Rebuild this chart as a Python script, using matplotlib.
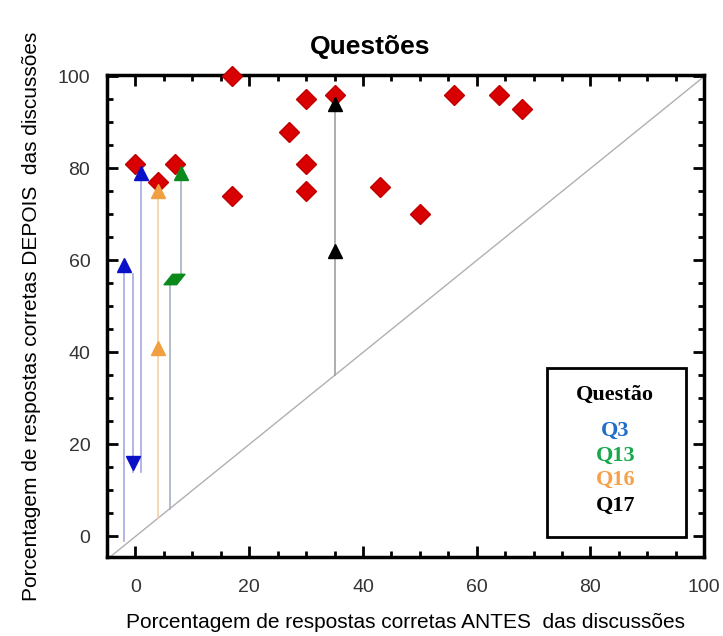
import numpy as np
import matplotlib.pyplot as plt
from matplotlib.path import Path
from matplotlib.ticker import MultipleLocator

# Red diamonds: (antes, depois) for all questions
red_x = [0, 4, 7, 17, 17, 27, 30, 30, 30, 35, 43, 50, 56, 64, 68]
red_y = [81, 77, 81, 100, 74, 88, 95, 81, 75, 96, 76, 70, 96, 96, 93]

# Q3 (blue)
q3_up_x = [-2, 1]
q3_up_y = [59, 79]
q3_down_x = [-0.5]
q3_down_y = [16]
q3_lines = [(-2, -1, 59), (-0.5, 14, 57), (1, 14, 79)]

# Q13 (green)
q13_tri_x = [8]
q13_tri_y = [79]
q13_par_x = [6.8]
q13_par_y = [56]
q13_lines = [(6, 6, 56), (8, 56, 79)]

# Q16 (orange)
q16_tri_x = [4, 4]
q16_tri_y = [41, 75]
q16_lines = [(4, 4, 77)]

# Q17 (black)
q17_tri_x = [35, 35]
q17_tri_y = [62, 94]
q17_lines = [(35, 35, 94)]

legend_items = ["Q3", "Q13", "Q16", "Q17"]
legend_colors = ["#1f6fc8", "#17a84a", "#f7a04a", "black"]

plt.rcParams["font.family"] = ["Liberation Sans", "DejaVu Sans"]

fig = plt.figure(figsize=(7.23, 6.36), dpi=100)
ax = fig.add_axes([0.148, 0.124, 0.826, 0.758])

# diagonal y = x
ax.plot([-5, 100], [-5, 100], color="#b0b0b0", lw=1, zorder=1)

def vlines(lines, color):
    for x, y0, y1 in lines:
        ax.plot([x, x], [y0, y1], color=color, lw=1.2, zorder=2)

vlines(q3_lines, "#a8a8e0")
vlines(q13_lines, "#a8b0c0")
vlines(q16_lines, "#f5cfa8")
vlines(q17_lines, "#a0a0a0")

ax.plot(red_x, red_y, "D", color="#d80000", mec="#c00000", ms=10, ls="none",
        zorder=4, clip_on=False)

ax.plot(q3_up_x, q3_up_y, "^", color="#0a10c8", ms=10, ls="none", zorder=5)
ax.plot(q3_down_x, q3_down_y, "v", color="#0a10c8", ms=10, ls="none", zorder=5)

par = Path([(-1.0, -0.5), (0.2, -0.5), (1.0, 0.5), (-0.2, 0.5), (-1.0, -0.5)],
           [Path.MOVETO, Path.LINETO, Path.LINETO, Path.LINETO, Path.CLOSEPOLY])
ax.plot(q13_par_x, q13_par_y, marker=par, color="#0a8a1a", ms=15, ls="none", zorder=5)
ax.plot(q13_tri_x, q13_tri_y, "^", color="#0a8a1a", ms=10, ls="none", zorder=5)

ax.plot(q16_tri_x, q16_tri_y, "^", color="#f0a040", ms=10, ls="none", zorder=5)
ax.plot(q17_tri_x, q17_tri_y, "^", color="black", ms=10, ls="none", zorder=5)

ax.set_xlim(-5, 100)
ax.set_ylim(-4.5, 100.3)
ax.xaxis.set_major_locator(MultipleLocator(20))
ax.xaxis.set_minor_locator(MultipleLocator(5))
ax.yaxis.set_major_locator(MultipleLocator(20))
ax.yaxis.set_minor_locator(MultipleLocator(5))
ax.tick_params(which="both", direction="in", top=True, right=True, width=2,
               labelsize=14, labelcolor="#333333")
ax.tick_params(which="major", length=8)
ax.tick_params(which="minor", length=4)
ax.tick_params(axis="x", pad=16)
ax.tick_params(axis="y", pad=12)
for s in ax.spines.values():
    s.set_linewidth(2.5)

fig.text(370 / 723, 1 - 47 / 636, "Questões", fontsize=19, fontweight="bold",
         ha="center", va="center")
ax.set_xlabel("Porcentagem de respostas corretas ANTES  das discussões", fontsize=15, labelpad=12)
ax.set_ylabel("Porcentagem de respostas corretas DEPOIS  das discussões", fontsize=15, labelpad=12)

# legend box
ax.add_patch(plt.Rectangle((0.737, 0.041), 0.233, 0.351, transform=ax.transAxes,
                           fill=True, facecolor="white", edgecolor="black", lw=2, zorder=6))
ax.text(0.851, 0.336, "Questão", transform=ax.transAxes, ha="center", va="center",
        fontsize=16, fontweight="bold", family=["Liberation Serif"], zorder=7)
ys = [0.261, 0.211, 0.161, 0.106]
for lab, col, yy in zip(legend_items, legend_colors, ys):
    ax.text(0.851, yy, lab, transform=ax.transAxes, ha="center", va="center",
            fontsize=16, fontweight="bold", color=col, family=["Liberation Serif"], zorder=7)

fig.savefig("out.png", dpi=100)
